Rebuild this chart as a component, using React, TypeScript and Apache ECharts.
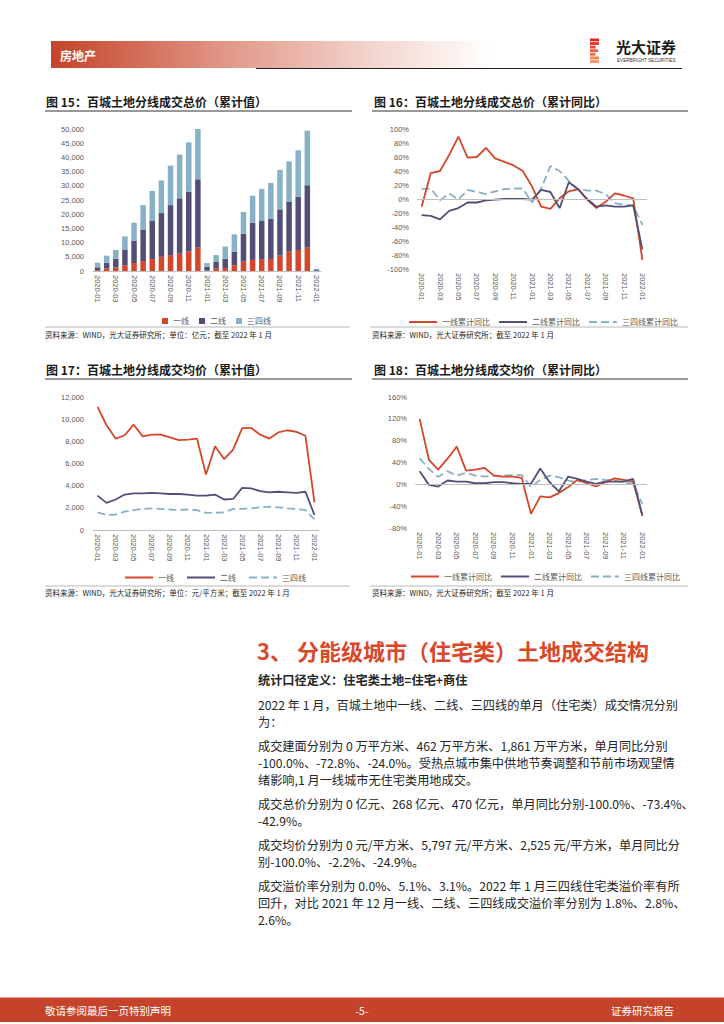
import React, { useEffect, useRef } from "react";
import * as echarts from "echarts";

const months = [
  "2020-01", "2020-02", "2020-03", "2020-04", "2020-05", "2020-06", "2020-07", "2020-08",
  "2020-09", "2020-10", "2020-11", "2020-12", "2021-01", "2021-02", "2021-03", "2021-04",
  "2021-05", "2021-06", "2021-07", "2021-08", "2021-09", "2021-10", "2021-11", "2021-12", "2022-01",
];

// 图15 成交总价累计值（亿元）
const tier1Total = [300, 900, 1200, 2000, 2800, 3500, 4200, 5000, 5600, 6100, 6900, 8200, 100, 1000, 1000, 2000, 3300, 3900, 4200, 4200, 5400, 6800, 7400, 8200, 0];
const tier2Total = [1000, 2000, 3100, 5600, 7900, 11100, 13400, 15400, 17600, 19500, 21000, 24100, 1400, 2300, 3300, 4800, 9800, 13100, 13400, 14100, 16300, 17500, 18800, 22000, 300];
const tier3Total = [1600, 2500, 3100, 4600, 6300, 8600, 10600, 11500, 13900, 15400, 17400, 17700, 1300, 2300, 4300, 6100, 7700, 9500, 11300, 12700, 13900, 14300, 16300, 19200, 500];

// 图16 成交总价累计同比（%）
const tier1TotalYoY = [-11, 37, 40, 63, 89, 59, 60, 73, 58, 53, 48, 40, 18, -11, -14, 1, 11, 14, -1, -13, -4, 8, 5, 1, -87];
const tier2TotalYoY = [-23, -24, -29, -17, -13, -5, -5, -2, -1, 0, 0, 0, -1, 13, 10, -13, 24, 14, 0, -11, -9, -11, -11, -9, -72];
const tier3TotalYoY = [14, 15, -2, 8, -1, 13, 10, 7, 11, 14, 15, 15, -5, 15, 47, 40, 26, 14, 12, 12, 7, -6, -8, -9, -37];

// 图17 成交均价累计值（元/平方米）
const tier1Price = [11100, 9450, 8250, 8550, 9500, 8450, 8600, 8600, 8350, 8100, 8150, 8250, 5000, 7550, 6400, 7250, 9200, 9200, 8600, 8250, 8800, 9000, 8850, 8500, 2500];
const tier2Price = [3100, 2450, 2750, 3200, 3300, 3300, 3350, 3300, 3250, 3250, 3200, 3100, 3100, 3200, 2750, 2800, 3800, 3750, 3500, 3400, 3450, 3400, 3350, 3450, 1350];
const tier3Price = [1600, 1350, 1400, 1650, 1800, 1900, 1950, 1900, 1850, 1800, 1850, 1800, 1550, 1550, 1600, 1900, 1900, 1950, 2050, 2100, 2050, 1950, 1900, 1800, 950];

// 图18 成交均价累计同比（%）
const tier1PriceYoY = [120, 45, 27, 47, 69, 25, 27, 30, 16, 14, 14, 12, -54, -22, -24, -16, -5, 8, 2, -4, 4, 11, 8, 5, -57];
const tier2PriceYoY = [24, -1, -4, 7, 5, 5, 2, 2, 4, 4, 2, 1, 1, 29, 4, -13, 14, 10, 5, 1, 5, 5, 5, 10, -57];
const tier3PriceYoY = [48, 28, 14, 24, 16, 21, 16, 14, 16, 16, 17, 17, -5, 8, 16, 13, 7, 4, 8, 10, 8, 7, 4, 1, -36];

const paragraphLines = [
  { t: "2022 年 1 月，百城土地中一线、二线、三四线的单月（住宅类）成交情况分别", y: 705 },
  { t: "为：", y: 722 },
  { t: "成交建面分别为 0 万平方米、462 万平方米、1,861 万平方米，单月同比分别", y: 746 },
  { t: "-100.0%、-72.8%、-24.0%。受热点城市集中供地节奏调整和节前市场观望情", y: 763 },
  { t: "绪影响,1 月一线城市无住宅类用地成交。", y: 780 },
  { t: "成交总价分别为 0 亿元、268 亿元、470 亿元，单月同比分别-100.0%、-73.4%、", y: 804 },
  { t: "-42.9%。", y: 821 },
  { t: "成交均价分别为 0 元/平方米、5,797 元/平方米、2,525 元/平方米，单月同比分", y: 845 },
  { t: "别-100.0%、-2.2%、-24.9%。", y: 862 },
  { t: "成交溢价率分别为 0.0%、5.1%、3.1%。2022 年 1 月三四线住宅类溢价率有所", y: 886 },
  { t: "回升，对比 2021 年 12 月一线、二线、三四线成交溢价率分别为 1.8%、2.8%、", y: 903 },
  { t: "2.6%。", y: 920 },
];

const FONT = '"Noto Sans CJK SC", "Noto Sans", sans-serif';
const AXFONT = '"Liberation Sans", "Noto Sans CJK SC", sans-serif';
const RED = "#d4472a";
const PURPLE = "#534e78";
const BLUE = "#86b1c6";
const ZW = "\u200b";

function buildOption() {
  const grids = [
    { left: 93, top: 129, width: 228, height: 142 },
    { left: 417, top: 129, width: 230, height: 140 },
    { left: 93, top: 397, width: 226, height: 133 },
    { left: 415, top: 397, width: 232, height: 131 },
  ];
  const xAxes = grids.map((_, i) => ({
    type: "category",
    gridIndex: i,
    data: months,
    boundaryGap: true,
    axisTick: { show: false },
    axisLine: { show: i === 0 || i === 2, onZero: false, lineStyle: { color: "#bfbfbf", width: 1 } },
    axisLabel: { rotate: -90, interval: 1, fontSize: 7.5, color: "#595959", margin: 4, fontFamily: AXFONT },
  }));
  const thousands = (v: number) => v.toLocaleString("en-US");
  const pct = (v: number) => `${v}%`;
  const yBase = (i: number, min: number, max: number, interval: number, fmt: any, margin: number) => ({
    type: "value",
    gridIndex: i,
    min,
    max,
    interval,
    splitLine: { show: false },
    axisLine: { show: false },
    axisTick: { show: false },
    axisLabel: { formatter: fmt, fontSize: 7.5, color: "#595959", margin, fontFamily: AXFONT },
  });
  const yAxes = [
    yBase(0, 0, 50000, 5000, thousands, 9),
    yBase(1, -100, 100, 20, pct, 8),
    yBase(2, 0, 12000, 2000, thousands, 9),
    yBase(3, -80, 160, 40, pct, 8),
  ];
  const bar = (name: string, data: number[], color: string) => ({
    type: "bar",
    name,
    stack: "total",
    xAxisIndex: 0,
    yAxisIndex: 0,
    data,
    barWidth: 5.5,
    itemStyle: { color },
  });
  const zeroLine = {
    silent: true,
    symbol: "none",
    label: { show: false },
    lineStyle: { color: "#bfbfbf", width: 1, type: "solid" },
    data: [{ yAxis: 0 }],
  };
  const line = (name: string, data: number[], color: string, idx: number, dashed: boolean, mark = false) => ({
    type: "line",
    name,
    xAxisIndex: idx,
    yAxisIndex: idx,
    data,
    symbol: "none",
    showSymbol: false,
    lineStyle: { color, width: 1.8, type: dashed ? [8, 4] : "solid" },
    itemStyle: { color },
    z: dashed ? 2 : 3,
    ...(mark ? { markLine: zeroLine } : {}),
  });
  const legendText = { fontSize: 8, color: "#595959", fontFamily: FONT };
  const strip = (n: string) => n.replace(/\u200b/g, "");
  const hiddenSymbol = { opacity: 0, borderWidth: 0 };

  const t = (text: string, x: number, y: number, font: string, fill: string, align = "left") => ({
    type: "text",
    x,
    y,
    style: { text, font, fill, align, verticalAlign: "middle" },
  });
  const ln = (x1: number, y1: number, x2: number, y2: number, stroke: string, lineWidth: number) => ({
    type: "line",
    shape: { x1, y1, x2, y2 },
    style: { stroke, lineWidth },
  });

  const logoStripes = [9, 9, 5.5, 8, 5.5, 9, 9];
  const logoColors = ["#e2261f", "#e5352a", "#e84a36", "#eb5b3a", "#ee6e45", "#f08352", "#f29463"];

  const graphics: any[] = [
    {
      type: "rect",
      shape: { x: 51, y: 41, width: 440, height: 27 },
      style: {
        fill: new echarts.graphic.LinearGradient(0, 0, 1, 0, [
          { offset: 0, color: "#c6432a" },
          { offset: 0.4, color: "#e09888" },
          { offset: 0.75, color: "#f4d8d1" },
          { offset: 1, color: "#ffffff" },
        ]),
      },
    },
    t("房地产", 60, 55, `bold 12px ${FONT}`, "#ffffff"),
    ln(256, 68.5, 682, 68.5, "#222222", 1.2),
    ...logoStripes.map((w, i) => ({
      type: "rect",
      shape: { x: 590, y: 38.5 + i * 3.6, width: w, height: 2.8 },
      style: { fill: logoColors[i] },
    })),
    t("光大证券", 616, 46, `bold 15px ${FONT}`, "#1a1a1a"),
    t("EVERBRIGHT SECURITIES", 617, 60, `4.6px ${AXFONT}`, "#333333"),

    t("图 15：百城土地分线成交总价（累计值）", 46, 101, `bold 12px ${FONT}`, "#1a1a1a"),
    ln(45, 111, 352, 111, "#333333", 1),
    t("图 16：百城土地分线成交总价（累计同比）", 374, 101, `bold 12px ${FONT}`, "#1a1a1a"),
    ln(372, 111, 688, 111, "#333333", 1),
    t("图 17：百城土地分线成交均价（累计值）", 46, 369, `bold 12px ${FONT}`, "#1a1a1a"),
    ln(45, 379, 352, 379, "#333333", 1),
    t("图 18：百城土地分线成交均价（累计同比）", 374, 369, `bold 12px ${FONT}`, "#1a1a1a"),
    ln(372, 379, 688, 379, "#333333", 1),

    ln(45, 327, 350, 327, "#a6a6a6", 0.8),
    t("资料来源：WIND，光大证券研究所；单位：亿元；截至 2022 年 1 月", 45, 334, `7.5px ${FONT}`, "#262626"),
    ln(370, 327, 688, 327, "#a6a6a6", 0.8),
    t("资料来源：WIND，光大证券研究所；截至 2022 年 1 月", 372, 334, `7.5px ${FONT}`, "#262626"),
    ln(45, 586, 350, 586, "#a6a6a6", 0.8),
    t("资料来源：WIND，光大证券研究所；单位：元/平方米；截至 2022 年 1 月", 45, 592, `7.5px ${FONT}`, "#262626"),
    ln(370, 586, 688, 586, "#a6a6a6", 0.8),
    t("资料来源：WIND，光大证券研究所；截至 2022 年 1 月", 372, 592, `7.5px ${FONT}`, "#262626"),

    t("3、 分能级城市（住宅类）土地成交结构", 257, 650, `bold 22px ${FONT}`, "#d9482b"),
    t("统计口径定义：住宅类土地=住宅+商住", 258, 680, `bold 12.2px ${FONT}`, "#262626"),
    ...paragraphLines.map((p) => t(p.t, 258, p.y, `12.2px ${FONT}`, "#262626")),

    { type: "rect", shape: { x: 0, y: 997, width: 724, height: 1 }, style: { fill: "#e8a08f" } },
    { type: "rect", shape: { x: 0, y: 998, width: 724, height: 24 }, style: { fill: "#c5432a" } },
    t("敬请参阅最后一页特别声明", 45, 1010, `10.5px ${FONT}`, "#ffffff"),
    t("-5-", 362, 1010, `10.5px ${FONT}`, "#ffffff", "center"),
    t("证券研究报告", 674, 1010, `10.5px ${FONT}`, "#ffffff", "right"),
  ];

  return {
    animation: false,
    backgroundColor: "#ffffff",
    textStyle: { fontFamily: FONT },
    grid: grids,
    xAxis: xAxes,
    yAxis: yAxes,
    legend: [
      {
        data: ["一线", "二线", "三四线"],
        left: 157, top: 312, icon: "rect", itemWidth: 6, itemHeight: 6, itemGap: 10,
        textStyle: legendText,
      },
      {
        data: ["一线累计同比", "二线累计同比", "三四线累计同比"],
        left: 403, top: 313, itemWidth: 28, itemHeight: 8, itemGap: 8,
        textStyle: legendText, itemStyle: hiddenSymbol,
      },
      {
        data: ["一线" + ZW, "二线" + ZW, "三四线" + ZW],
        left: 119, top: 568.5, itemWidth: 28, itemHeight: 8, itemGap: 12,
        textStyle: legendText, formatter: strip, itemStyle: hiddenSymbol,
      },
      {
        data: ["一线累计同比" + ZW, "二线累计同比" + ZW, "三四线累计同比" + ZW],
        left: 405, top: 567.5, itemWidth: 28, itemHeight: 8, itemGap: 8,
        textStyle: legendText, formatter: strip, itemStyle: hiddenSymbol,
      },
    ],
    series: [
      bar("一线", tier1Total, RED),
      bar("二线", tier2Total, PURPLE),
      bar("三四线", tier3Total, BLUE),
      line("一线累计同比", tier1TotalYoY, RED, 1, false, true),
      line("二线累计同比", tier2TotalYoY, PURPLE, 1, false),
      line("三四线累计同比", tier3TotalYoY, BLUE, 1, true),
      line("一线" + ZW, tier1Price, RED, 2, false),
      line("二线" + ZW, tier2Price, PURPLE, 2, false),
      line("三四线" + ZW, tier3Price, BLUE, 2, true),
      line("一线累计同比" + ZW, tier1PriceYoY, RED, 3, false, true),
      line("二线累计同比" + ZW, tier2PriceYoY, PURPLE, 3, false),
      line("三四线累计同比" + ZW, tier3PriceYoY, BLUE, 3, true),
    ],
    graphic: { elements: graphics },
  };
}

export default function App() {
  const ref = useRef<HTMLDivElement>(null);
  useEffect(() => {
    const chart = echarts.init(ref.current!, null, { renderer: "svg", width: 724, height: 1024 });
    chart.setOption(buildOption() as any);
    return () => chart.dispose();
  }, []);
  return (
    <div
      ref={ref}
      style={{ position: "absolute", left: 0, top: 0, width: 724, height: 1024, background: "#ffffff" }}
    />
  );
}
